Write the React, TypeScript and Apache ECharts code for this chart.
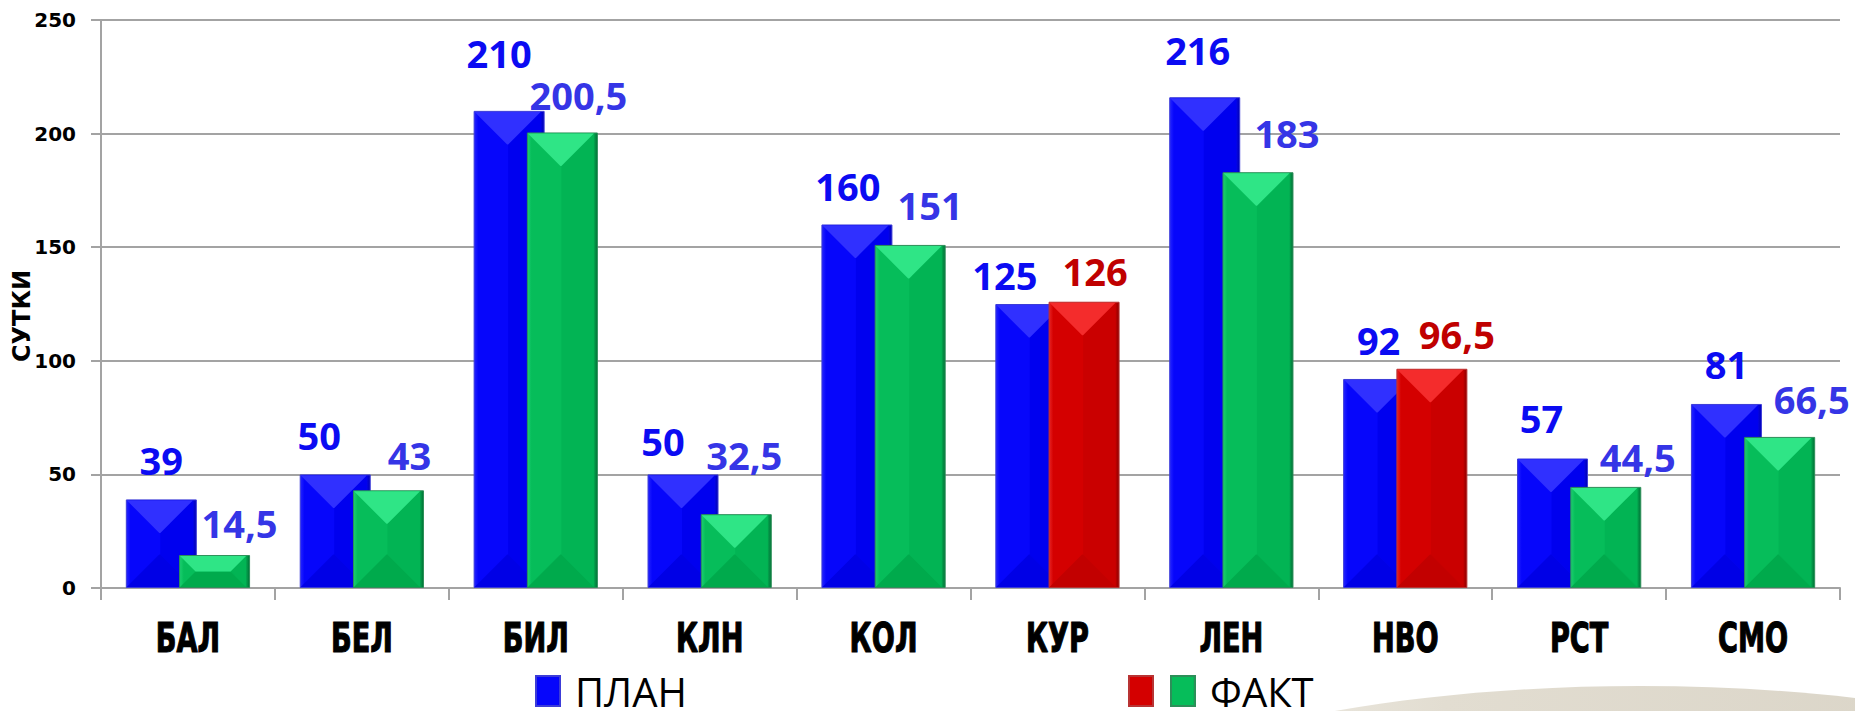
import React, { useEffect, useRef } from 'react';
import * as echarts from 'echarts';

const categories = ['БАЛ', 'БЕЛ', 'БИЛ', 'КЛН', 'КОЛ', 'КУР', 'ЛЕН', 'НВО', 'РСТ', 'СМО'];
const planValues = [39, 50, 210, 50, 160, 125, 216, 92, 57, 81];
const factValues = [14.5, 43, 200.5, 32.5, 151, 126, 183, 96.5, 44.5, 66.5];
const yMin = 0;
const yMax = 250;
const yStep = 50;
const yTitle = 'СУТКИ';

// label placement (style only): [dx, gap above bar top]
const planLabelShift = [[0, 24], [-16, 24], [-10, 43], [-20, 18], [-9, 23], [-26, 14], [-7, 32], [0, 24], [-11, 25], [0, 25]];
const factLabelShift = [[25, 17], [21, 20], [16, 22], [8, 44], [20, 25], [11, 16], [29, 24], [25, 20], [32, 15], [32, 23]];

const BAR_W = 71;
const GAP_RATIO = -0.25;

const fmt = (v: number) => String(v).replace('.', ',');

const grad = (stops: [number, string][]) =>
  new echarts.graphic.LinearGradient(0, 0, 1, 0, stops.map(([offset, color]) => ({ offset, color })));

const PAL = {
  blue: { face: '#0606fb', edgeL: '#2424ff', edgeR: '#0000b4', top: '#3030ff', right: '#0000ef', bottom: '#0000e6', border: '#3c3cd8' },
  green: { face: '#06bd5a', edgeL: '#1ccf70', edgeR: '#007035', top: '#2fe586', right: '#02b454', bottom: '#00aa4c', border: '#2d8f59' },
  red: { face: '#d40000', edgeL: '#e82424', edgeR: '#8e0000', top: '#f42c2c', right: '#ca0000', bottom: '#c20000', border: '#b83434' },
};

const barFill = (p: any) => grad([[0, p.edgeL], [0.06, p.face], [0.93, p.face], [1, p.edgeR]]);

const labelOffset = (s: number[]) => [s[0], -(s[1] - 4)];

// bevel overlay drawn from the same values through the axis scales
const bevelItem = (slot: number, pickPal: (i: number) => any) => (params: any, api: any) => {
  const ci = api.value(0);
  const v = api.value(1);
  const top = api.coord([ci, v]);
  const base = api.coord([ci, 0]);
  const groupW = 2 * BAR_W + GAP_RATIO * BAR_W;
  const left = top[0] - groupW / 2 + slot * BAR_W * (1 + GAP_RATIO);
  const L = left + 1;
  const R = left + BAR_W - 4;
  const T = top[1] + 1;
  const B = base[1] - 1;
  const h = B - T;
  const d = Math.min(BAR_W / 2 - 3, h / 2);
  const p = pickPal(params.dataIndex);
  return {
    type: 'group',
    children: [
      {
        type: 'polygon',
        shape: { points: [[R, T], [R, B], [R - d, B - d], [R - d, T + d]] },
        style: { fill: p.right },
      },
      {
        type: 'polygon',
        shape: { points: [[L, B], [R, B], [R - d, B - d], [L + d, B - d]] },
        style: { fill: p.bottom },
      },
      {
        type: 'polygon',
        shape: { points: [[L, T], [R, T], [R - d, T + d], [L + d, T + d]] },
        style: { fill: p.top },
      },
    ],
  };
};

export default function App() {
  const ref = useRef<HTMLDivElement>(null);
  useEffect(() => {
    document.body.style.margin = '0';
    const chart = echarts.init(ref.current!, null, { renderer: 'svg' });

    const planData = planValues.map((v, i) => ({ value: v, label: { offset: labelOffset(planLabelShift[i]) } }));
    const factGreen = factValues.map((v, i) =>
      v > planValues[i] ? '-' : { value: v, label: { offset: labelOffset(factLabelShift[i]) } }
    );
    const factRed = factValues.map((v, i) =>
      v > planValues[i] ? { value: v, label: { offset: labelOffset(factLabelShift[i]) } } : '-'
    );

    const valueLabel = (color: string) => ({
      show: true,
      position: 'top',
      distance: 0,
      formatter: (p: any) => fmt(p.value),
      fontFamily: '"Open Sans", sans-serif',
      fontWeight: 'bold',
      fontSize: 38,
      color,
    });

    const gridColor = '#a3a3a3';
    const legendText = {
      fontFamily: '"Open Sans", sans-serif',
      fontSize: 40,
      color: '#000',
      padding: [0, 0, 0, 10],
    };

    chart.setOption({
      animation: false,
      backgroundColor: '#ffffff',
      graphic: [
        {
          type: 'ellipse',
          z: -10,
          silent: true,
          shape: { cx: 1640, cy: 900, rx: 650, ry: 214 },
          style: {
            fill: new echarts.graphic.LinearGradient(0, 0, 1, 0, [
              { offset: 0, color: '#faf9f5' },
              { offset: 0.35, color: '#e2ddd1' },
              { offset: 1, color: '#d5cfc1' },
            ]),
          },
        },
        {
          type: 'text',
          x: 22,
          y: 316,
          rotation: Math.PI / 2,
          silent: true,
          style: {
            text: yTitle,
            fontFamily: '"DejaVu Sans", sans-serif',
            fontWeight: 'bold',
            fontSize: 24,
            fill: '#000',
            align: 'center',
            verticalAlign: 'middle',
          },
        },
      ],
      grid: { left: 101, right: 15, top: 20, bottom: 123, containLabel: false, outerBoundsMode: 'none' },
      legend: [
        {
          data: ['ПЛАН'],
          left: 535,
          top: 671,
          padding: 0,
          selectedMode: false,
          icon: 'rect',
          itemWidth: 24,
          itemHeight: 30,
          textStyle: legendText,
        },
        {
          data: ['ФАКТ > ПЛАН', 'ФАКТ'],
          left: 1128,
          top: 671,
          padding: 0,
          itemGap: 16,
          selectedMode: false,
          icon: 'rect',
          itemWidth: 24,
          itemHeight: 30,
          formatter: (name: string) => (name === 'ФАКТ' ? name : ''),
          textStyle: legendText,
        },
      ],
      xAxis: {
        type: 'category',
        data: categories,
        axisLine: { lineStyle: { color: gridColor, width: 2 } },
        axisTick: { show: true, length: 12, lineStyle: { color: gridColor, width: 2 } },
        axisLabel: { show: false },
      },
      yAxis: {
        type: 'value',
        min: yMin,
        max: yMax,
        interval: yStep,
        axisLine: { show: true, lineStyle: { color: gridColor, width: 2 } },
        axisTick: { show: true, length: 10, lineStyle: { color: gridColor, width: 2 } },
        splitLine: { show: true, lineStyle: { color: gridColor, width: 2 } },
        axisLabel: {
          margin: 25,
          fontFamily: '"DejaVu Sans", sans-serif',
          fontWeight: 'bold',
          fontSize: 20,
          color: '#000',
        },
      },
      series: [
        {
          name: 'ПЛАН',
          type: 'bar',
          z: 2,
          barWidth: BAR_W,
          barGap: `${GAP_RATIO * 100}%`,
          data: planData,
          itemStyle: { color: barFill(PAL.blue), borderColor: PAL.blue.border, borderWidth: 1 },
          label: valueLabel('#0b0bf2'),
        },
        {
          name: 'ПЛАН bevel',
          type: 'custom',
          z: 3,
          silent: true,
          clip: false,
          data: planValues.map((v, i) => [i, v]),
          renderItem: bevelItem(0, () => PAL.blue),
        },
        {
          name: 'ФАКТ > ПЛАН',
          type: 'bar',
          stack: 'fact',
          z: 4,
          barWidth: BAR_W,
          barGap: `${GAP_RATIO * 100}%`,
          data: factRed,
          itemStyle: { color: barFill(PAL.red), borderColor: PAL.red.border, borderWidth: 1 },
          label: valueLabel('#c00000'),
        },
        {
          name: 'ФАКТ',
          type: 'bar',
          stack: 'fact',
          z: 4,
          barWidth: BAR_W,
          barGap: `${GAP_RATIO * 100}%`,
          data: factGreen,
          itemStyle: { color: barFill(PAL.green), borderColor: PAL.green.border, borderWidth: 1 },
          label: valueLabel('#3535e6'),
        },
        {
          name: 'ФАКТ bevel',
          type: 'custom',
          z: 5,
          silent: true,
          clip: false,
          data: factValues.map((v, i) => [i, v]),
          renderItem: bevelItem(1, (i: number) => (factValues[i] > planValues[i] ? PAL.red : PAL.green)),
        },
        {
          name: 'categories',
          type: 'custom',
          z: 6,
          silent: true,
          clip: false,
          data: categories.map((c, i) => [i, 0]),
          renderItem: (params: any, api: any) => {
            const p = api.coord([api.value(0), 0]);
            return {
              type: 'text',
              x: p[0],
              y: p[1] + 50,
              scaleX: 0.68,
              style: {
                text: categories[params.dataIndex],
                fontFamily: '"DejaVu Sans", sans-serif',
                fontWeight: 'bold',
                fontSize: 40,
                fill: '#000',
                stroke: '#000',
                lineWidth: 1.2,
                align: 'center',
                verticalAlign: 'middle',
              },
            };
          },
        },
      ],
    });
    return () => chart.dispose();
  }, []);
  return <div ref={ref} style={{ width: 1855, height: 711 }} />;
}
